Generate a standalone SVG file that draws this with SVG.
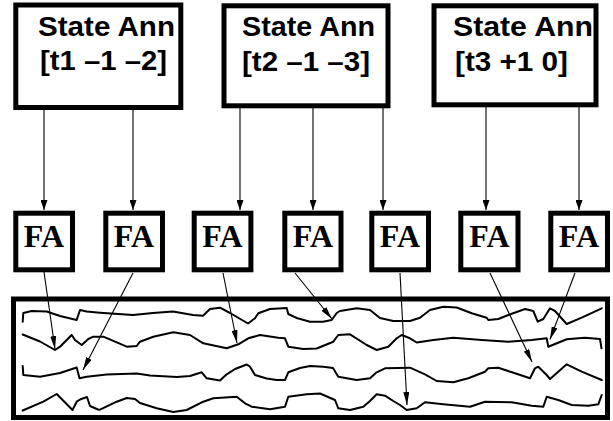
<svg xmlns="http://www.w3.org/2000/svg" width="613" height="421" viewBox="0 0 613 421">
<style>
.box{fill:#fff;stroke:#000;stroke-width:5}
.st{font-family:"Liberation Sans",Arial,sans-serif;font-weight:bold;font-size:28px;fill:#000}
.fa{font-family:"Liberation Serif","Times New Roman",serif;font-weight:bold;font-size:32px;fill:#000;text-anchor:middle}
.c{stroke:#000;stroke-width:1.1;fill:none}
.w{stroke:#000;stroke-width:2;fill:none;stroke-linejoin:round;stroke-linecap:round}
</style>
<defs>
<marker id="ah" viewBox="0 0 10 7" markerWidth="10" markerHeight="7" refX="10" refY="3.5" orient="auto" markerUnits="userSpaceOnUse"><path d="M0,0 L10,3.5 L0,7 Z" fill="#000"/></marker>
<marker id="al" viewBox="0 0 13 6" markerWidth="13" markerHeight="6" refX="13" refY="3" orient="auto" markerUnits="userSpaceOnUse"><path d="M0,0 L13,3 L0,6 Z" fill="#000"/></marker>
</defs>
<rect width="613" height="421" fill="#fff"/>
<g id="state1"><rect class="box" x="15.8" y="5" width="165" height="102.5"/><text class="st" x="38" y="35.5" textLength="137" lengthAdjust="spacingAndGlyphs">State Ann</text><text class="st" x="40" y="70" textLength="127" lengthAdjust="spacingAndGlyphs">[t1 –1 –2]</text></g>
<g id="state2"><rect class="box" x="224" y="5.8" width="164" height="100"/><text class="st" x="242" y="36" textLength="133" lengthAdjust="spacingAndGlyphs">State Ann</text><text class="st" x="242" y="70.5" textLength="128" lengthAdjust="spacingAndGlyphs">[t2 –1 –3]</text></g>
<g id="state3"><rect class="box" x="434" y="5.8" width="162" height="99"/><text class="st" x="453" y="36" textLength="140" lengthAdjust="spacingAndGlyphs">State Ann</text><text class="st" x="455" y="70.5" textLength="113" lengthAdjust="spacingAndGlyphs">[t3 +1 0]</text></g>
<g id="fa1"><rect class="box" x="15.8" y="213.2" width="56.7" height="56.6"/><text class="fa" x="44" y="247">FA</text></g>
<g id="fa2"><rect class="box" x="105.8" y="213.2" width="56.7" height="56.6"/><text class="fa" x="134" y="247">FA</text></g>
<g id="fa3"><rect class="box" x="194.2" y="213.2" width="56.7" height="56.6"/><text class="fa" x="222.5" y="247">FA</text></g>
<g id="fa4"><rect class="box" x="284.8" y="213.2" width="56.2" height="56.6"/><text class="fa" x="313" y="247">FA</text></g>
<g id="fa5"><rect class="box" x="371.8" y="213.2" width="56.7" height="56.6"/><text class="fa" x="400" y="247">FA</text></g>
<g id="fa6"><rect class="box" x="460.8" y="213.2" width="57.2" height="56.6"/><text class="fa" x="489.4" y="247">FA</text></g>
<g id="fa7"><rect class="box" x="550.8" y="213.2" width="56.7" height="56.6"/><text class="fa" x="579" y="247">FA</text></g>
<g id="memory">
<rect class="box" x="13.5" y="299" width="594" height="118.5"/>
<path class="w" d="M22.7,321.7 L23.3,313 L31.7,311 L46.7,311.5 L60,316 L76.7,320 L80,310 L86.7,311.5 L100,312.7 L133,315 L153,313 L173,311.5 L193,315 L203,315.7 L210,309 L220,307.7 L230,313 L248,323.5 L255,318.3 L258.3,313.3 L270,309 L286.7,308 L288.3,314 L296.7,318 L310,321.7 L323,321.7 L331.7,320 L336.7,313 L340,311 L356.7,308.3 L370,310 L380,318 L393.3,321 L410,321 L420,317.7 L430,310 L443.3,306.7 L456.7,307.5 L471.7,313.3 L486.7,317.7 L488.3,320 L498.3,319 L508.3,315 L525,309 L533.3,311 L537.7,321.7 L543.3,319 L550,308.3 L555,311 L566.7,324 L581.7,317.7 L601.7,308.3"/>
<path class="w" d="M22.7,334.5 L40,341.5 L55,350 L60,346.7 L71.7,335 L75,340 L81.7,345 L88.3,339 L93.3,336.7 L103.3,336.7 L126.7,346.7 L136.7,346 L140,341.7 L153.3,336.7 L173.3,332.3 L190,335 L203.3,343.3 L226.7,348.3 L238.3,344.3 L248.3,338.3 L260,335 L278.3,337.7 L285,338.3 L288.3,346.7 L303.3,349 L316.7,348.5 L333.3,341.7 L338.3,335 L350,334.3 L366.7,345 L376.7,350 L388.3,346.7 L396.7,338.3 L401.7,335 L410,338.3 L416.7,342.5 L433.3,340 L453.3,337.7 L481.7,340 L508.3,341.7 L531.7,340 L546.7,338.3 L548.3,346.7 L566.7,339.3 L585,337.7 L600,339 L601.5,348.3"/>
<path class="w" d="M22.7,366 L23.3,375 L40,376.7 L60,373 L76.7,367.5 L79.5,378.3 L86.7,376.7 L106.7,374.5 L136.7,373.5 L150,375.5 L176.7,377 L190,376 L201.7,372.3 L206.7,378.3 L220,380.5 L226.7,374.3 L235,369 L246.7,364.5 L250,366.7 L255,375 L266.7,378.5 L276.7,380 L285,380 L288.3,372.3 L300,368 L310,366 L323.3,366.7 L333,368 L338.3,376.7 L356.7,380 L370,378.3 L376.7,372.3 L385,368.3 L410,367.7 L425,374.3 L436.7,381 L453.3,382.3 L468.3,378.3 L485,371.7 L488.3,368.3 L498.3,367.7 L515,373.3 L530,378.3 L535,368.3 L538.3,366.7 L546.7,375 L550,379 L566.7,364.3 L581.7,371.7 L601.7,380"/>
<path class="w" d="M22.7,410.5 L43.3,401.7 L56.7,394 L72.5,410 L76.7,401.7 L80,399.5 L87,397 L90,406 L98,409.5 L100,409.7 L116.7,401.7 L126.7,398 L135,399 L140,403 L156.7,408.3 L173.3,412 L186.7,410 L203.3,401.7 L213.3,398.3 L236.7,396.7 L245,403.3 L251.7,406.7 L270,409.3 L285,406.7 L288.3,396.7 L306.7,394.3 L320,393.5 L335,400 L338.3,408.3 L350,410 L363.3,406.7 L370,401 L376.7,394.3 L385,395.7 L393.3,401 L400,405 L406.7,410 L416.7,408.3 L425,402.3 L443.3,404.3 L470,406.7 L485,401.7 L511.7,402.3 L531.7,405.7 L543.3,406.7 L546.7,396.7 L558.3,400 L571.7,405 L588.3,405.7 L598.3,404.3 L601.7,395"/>
</g>
<g id="connectors">
<line class="c" x1="44" y1="108" x2="44" y2="210" marker-end="url(#ah)"/>
<line class="c" x1="133" y1="108" x2="133" y2="210" marker-end="url(#ah)"/>
<line class="c" x1="240" y1="106" x2="240" y2="210" marker-end="url(#ah)"/>
<line class="c" x1="313" y1="106" x2="313" y2="210" marker-end="url(#ah)"/>
<line class="c" x1="383" y1="106" x2="383" y2="210" marker-end="url(#ah)"/>
<line class="c" x1="486" y1="105" x2="486" y2="210" marker-end="url(#ah)"/>
<line class="c" x1="579" y1="105" x2="579" y2="210" marker-end="url(#ah)"/>
<line class="c" x1="44" y1="272" x2="55" y2="349" marker-end="url(#al)"/>
<line class="c" x1="133" y1="273" x2="83" y2="370" marker-end="url(#al)"/>
<line class="c" x1="223" y1="273" x2="237" y2="343" marker-end="url(#al)"/>
<line class="c" x1="295" y1="273" x2="332" y2="319" marker-end="url(#al)"/>
<line class="c" x1="400" y1="273" x2="407" y2="405" marker-end="url(#al)"/>
<line class="c" x1="490" y1="273" x2="532" y2="362" marker-end="url(#al)"/>
<line class="c" x1="575" y1="273" x2="550" y2="339.5" marker-end="url(#al)"/>
</g>
</svg>
